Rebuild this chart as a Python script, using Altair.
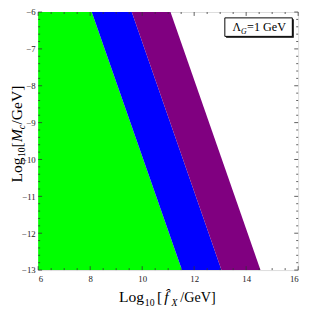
import altair as alt
import pandas as pd

# ---- data ----
y_ends = [-6, -13]
x_start = [6, 6]
green_edge = [8.06, 11.53]
blue_edge = [9.60, 13.05]
purple_edge = [11.09, 14.55]

x_major = [6, 8, 10, 12, 14, 16]
y_major = [-13, -12, -11, -10, -9, -8, -7, -6]
x_minor = [6.5, 7, 7.5, 8.5, 9, 9.5, 10.5, 11, 11.5, 12.5, 13, 13.5, 14.5, 15, 15.5]
y_minor = [-12.8, -12.6, -12.4, -12.2, -11.8, -11.6, -11.4, -11.2,
           -10.8, -10.6, -10.4, -10.2, -9.8, -9.6, -9.4, -9.2,
           -8.8, -8.6, -8.4, -8.2, -7.8, -7.6, -7.4, -7.2,
           -6.8, -6.6, -6.4, -6.2]

W, H = 267, 265
SERIF = "Liberation Serif"
FRAME = "#333333"

xscale = alt.Scale(domain=[6, 16], nice=False, zero=False)
yscale = alt.Scale(domain=[-13, -6], nice=False, zero=False)

regions = pd.DataFrame({"y": y_ends, "start": x_start, "green": green_edge,
                        "blue": blue_edge, "purple": purple_edge})

xaxis = alt.Axis(values=x_major, title=None, ticks=False, domain=False, grid=False,
                 labelFont=SERIF, labelFontSize=9, labelColor="#222222",
                 labelPadding=5, format="d")
yaxis = alt.Axis(values=y_major, title=None, ticks=False, domain=False, grid=False,
                 labelFont=SERIF, labelFontSize=9, labelColor="#222222",
                 labelPadding=3, format="d")

base = alt.Chart(regions)
green = base.mark_area(color="#00FF00", orient="horizontal", opacity=1).encode(
    y=alt.Y("y:Q", scale=yscale, axis=yaxis),
    x=alt.X("start:Q", scale=xscale, axis=xaxis),
    x2="green:Q")
blue = base.mark_area(color="#0000FF", orient="horizontal", opacity=1).encode(
    y=alt.Y("y:Q", scale=yscale, axis=yaxis),
    x=alt.X("green:Q", scale=xscale, axis=xaxis),
    x2="blue:Q")
purple = base.mark_area(color="#800080", orient="horizontal", opacity=1).encode(
    y=alt.Y("y:Q", scale=yscale, axis=yaxis),
    x=alt.X("blue:Q", scale=xscale, axis=xaxis),
    x2="purple:Q")


def xticks(vals, length, top):
    c = alt.Chart(pd.DataFrame({"v": vals})).mark_rule(color=FRAME, strokeWidth=0.8)
    if top:
        return c.encode(x=alt.X("v:Q", scale=xscale, axis=xaxis),
                        y=alt.value(0), y2=alt.value(length))
    return c.encode(x=alt.X("v:Q", scale=xscale, axis=xaxis),
                    y=alt.value(H), y2=alt.value(H - length))


def yticks(vals, length, right):
    c = alt.Chart(pd.DataFrame({"v": vals})).mark_rule(color=FRAME, strokeWidth=0.8)
    if right:
        return c.encode(y=alt.Y("v:Q", scale=yscale, axis=yaxis),
                        x=alt.value(W), x2=alt.value(W - length))
    return c.encode(y=alt.Y("v:Q", scale=yscale, axis=yaxis),
                    x=alt.value(0), x2=alt.value(length))


tick_layers = [
    xticks(x_major, 4, False), xticks(x_major, 4, True),
    xticks(x_minor, 2, False), xticks(x_minor, 2, True),
    yticks(y_major, 4, False), yticks(y_major, 4, True),
    yticks(y_minor, 2, False), yticks(y_minor, 2, True),
]


def txt(s, x, y, size, italic=False, angle=0):
    return alt.Chart(pd.DataFrame({"t": [s]})).mark_text(
        font=SERIF, fontSize=size, fontStyle="italic" if italic else "normal",
        align="left", baseline="alphabetic", angle=angle, color="black"
    ).encode(text="t:N", x=alt.value(x), y=alt.value(y))


one = pd.DataFrame({"k": [0]})
shadow = alt.Chart(one).mark_rect(color="black").encode(
    x=alt.value(193), x2=alt.value(262.5), y=alt.value(7.5), y2=alt.value(26.5))
box = alt.Chart(one).mark_rect(fill="white", stroke="black", strokeWidth=1).encode(
    x=alt.value(191.7), x2=alt.value(261), y=alt.value(6), y2=alt.value(25))

legend_text = [
    txt("Λ", 199.5, 19.7, 12),
    txt("G", 208.3, 22.3, 8, italic=True),
    txt("=1 GeV", 214.5, 19.7, 12.5),
]

XB = 298
xtitle = [
    txt("Log", 83, XB, 16),
    txt("10", 109.5, XB + 3.5, 10),
    txt("[", 122, XB, 16),
    txt("f\u0302", 129.5, XB, 16, italic=True),
    txt("X", 137, XB + 3.5, 10, italic=True),
    txt("/GeV]", 146, XB, 14.5),
]

YB = -17
ytitle = [
    txt("Log", YB, 175, 16, angle=270),
    txt("10", YB + 3.5, 149, 10, angle=270),
    txt("[", YB, 139, 16, angle=270),
    txt("M", YB, 133.5, 16, italic=True, angle=270),
    txt("c", YB + 3.5, 120.5, 10, italic=True, angle=270),
    txt("/GeV]", YB, 115.5, 16, angle=270),
]

chart = alt.layer(
    green, blue, purple, *tick_layers, shadow, box, *legend_text, *xtitle, *ytitle
).properties(
    width=W, height=H,
    autosize=alt.AutoSizeParams(type="none"),
    padding={"left": 31, "top": 0, "right": 6, "bottom": 42},
).configure_view(stroke=FRAME, strokeWidth=1).configure(background="white")

chart.save("out.html", embed_options={"renderer": "svg", "actions": False})
